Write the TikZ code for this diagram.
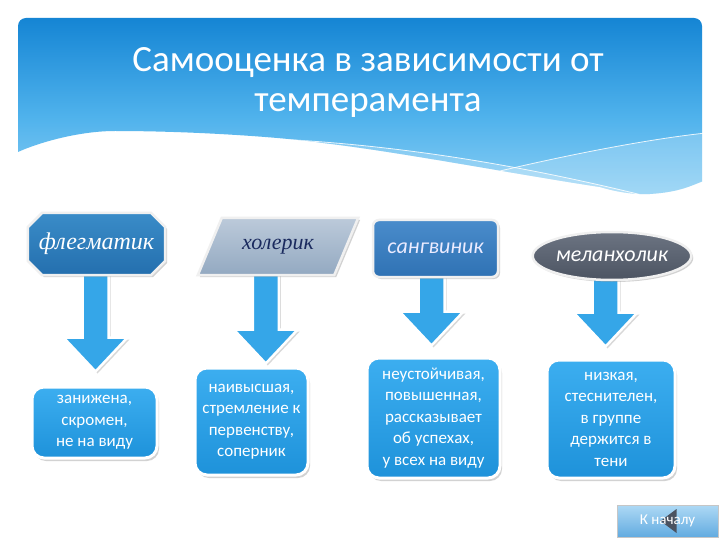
\documentclass[tikz,border=0pt]{standalone}
\usepackage{fontspec}
\setmainfont{Carlito}
\newfontfamily\serifit{Liberation Serif}
\usetikzlibrary{shapes.geometric,shapes.misc,shadows,calc}
\pgfdeclarelayer{bg}
\pgfsetlayers{bg,main}
\definecolor{hdrA}{HTML}{1585D4}
\definecolor{hdrB}{HTML}{4FB2EC}
\definecolor{hdrC}{HTML}{9AD6F6}
\definecolor{octA}{HTML}{3A8CC8}
\definecolor{octB}{HTML}{246FAE}
\definecolor{parA}{HTML}{BCCADA}
\definecolor{parB}{HTML}{93A9C1}
\definecolor{sanA}{HTML}{4A8CCB}
\definecolor{sanB}{HTML}{2F72B4}
\definecolor{melA}{HTML}{6C7482}
\definecolor{melB}{HTML}{4C5462}
\definecolor{arrC}{HTML}{35A6E8}
\definecolor{boxA}{HTML}{3CAEF0}
\definecolor{boxB}{HTML}{1E92DA}
\definecolor{navyT}{HTML}{1A2A5E}
\definecolor{btnA}{HTML}{AED9F5}
\definecolor{btnB}{HTML}{62ABE0}
\definecolor{triC}{HTML}{4A5260}
\tikzset{
  topnode/.style={draw=white!88!gray, line width=2.5pt,
    drop shadow={opacity=0.35,shadow xshift=2pt,shadow yshift=-2pt},
    inner sep=0pt, font=\fontsize{22}{26}\selectfont\itshape},
  botbox/.style={rounded corners=12pt, draw=white, line width=3pt,
    top color=boxA, bottom color=boxB,
    drop shadow={opacity=0.35,shadow xshift=2pt,shadow yshift=-3pt},
    text=white, align=center, inner sep=0pt,
    font=\fontsize{17}{21.5}\selectfont},
  arrsty/.style={fill=arrC, draw=white, line width=2.5pt, line join=miter,
    drop shadow={opacity=0.3,shadow xshift=2pt,shadow yshift=-2pt}},
  titlesty/.style={text=white, align=center, font=\fontsize{37}{40}\selectfont},
  btnsty/.style={rectangle, top color=btnA, bottom color=btnB, draw=gray!45,
    line width=0.6pt, minimum width=101pt, minimum height=32pt, inner sep=0pt,
    text=white, font=\fontsize{15}{18}\selectfont},
}
\newcommand\blockarr[4]{%
  \filldraw[arrsty] let \p1=(#1.south), \p2=(#2.north),
    \n1={0.5*\x1+0.5*\x2+#3pt} in
    (\n1-13pt,\y1+6pt) -- (\n1-13pt,\y2+#4pt+34pt)
    -- (\n1-32pt,\y2+#4pt+34pt) -- (\n1,\y2+#4pt)
    -- (\n1+32pt,\y2+#4pt+34pt) -- (\n1+13pt,\y2+#4pt+34pt)
    -- (\n1+13pt,\y1+6pt) -- cycle;}
\begin{document}
\begin{tikzpicture}[x=1pt,y=-1pt]
\useasboundingbox (0,0) rectangle (720,540);
\begin{pgfonlayer}{bg}
\fill[white] (0,0) rectangle (720,540);
\end{pgfonlayer}
% header
\begin{scope}
  \clip (0,0) -- (720,0) -- (720,180) -- (706,180)
    .. controls (690,186) and (680,192) .. (650,194)
    .. controls (630,195) and (610,190) .. (600,187)
    .. controls (520,175) and (400,152) .. (323,143)
    .. controls (290,138) and (200,131) .. (115,131)
    .. controls (80,131) and (40,142) .. (18,152)
    -- (0,152) -- cycle;
  \shade[rounded corners=8pt, top color=hdrA, bottom color=hdrC, middle color=hdrB]
    (18,18) rectangle (702,215);
  \fill[white, opacity=0.22] (221,137) .. controls (380,140) and (520,165) .. (646,196)
    -- (720,196) -- (720,240) -- (221,240) -- cycle;
  \fill[white, opacity=0.2] (443,185) .. controls (540,160) and (640,140) .. (706,133)
    -- (720,133) -- (720,240) -- (443,240) -- cycle;
  \draw[white, opacity=0.85, line width=0.8pt] (221,137) .. controls (380,140) and (520,165) .. (646,196);
  \draw[white, opacity=0.85, line width=0.8pt] (443,185) .. controls (540,160) and (640,140) .. (706,133);
\end{scope}
\node[titlesty] (ttl) at (368,82) {Самооценка в зависимости от\\темперамента};
% top nodes
\node[topnode, chamfered rectangle, chamfered rectangle xsep=12pt,
  minimum width=137pt, minimum height=62pt, top color=octA, bottom color=octB,
  text=white, font=\fontsize{24}{28}\selectfont\serifit\itshape] (fleg) at (96.5,244) {флегматик};
\node[rectangle, inner sep=0pt, minimum width=136pt, minimum height=57pt, text=navyT,
  font=\fontsize{22}{26}\selectfont\serifit\itshape] (chol) at (278,246.5) {холерик};
\node[topnode, rectangle, rounded corners=6pt, minimum width=125pt, minimum height=57pt,
  top color=sanA, bottom color=sanB, text=white!92!blue] (sang) at (435.5,248.5) {сангвиник};
\node[topnode, ellipse, minimum width=140pt, minimum height=48pt,
  top color=melA, bottom color=melB, text=white] (mel) at (612,256) {меланхолик};
% bottom boxes
\node[botbox, minimum width=125pt, minimum height=71pt] (b1) at (94.5,422.5)
  {занижена,\\скромен,\\не на виду};
\node[botbox, minimum width=113pt, minimum height=107pt] (b2) at (251.5,421.5)
  {наивысшая,\\стремление к\\первенству,\\соперник};
\node[botbox, minimum width=133pt, minimum height=120pt] (b3) at (433.5,418)
  {неустойчивая,\\повышенная,\\рассказывает\\об успехах,\\у всех на виду};
\node[botbox, minimum width=128pt, minimum height=118pt] (b4) at (611,419)
  {низкая,\\стеснителен,\\в группе\\держится в\\тени};
% arrows
\begin{pgfonlayer}{bg}
\blockarr{fleg}{b1}{0}{14}
\blockarr{chol}{b2}{1}{3}
\blockarr{sang}{b3}{-3}{11}
\blockarr{mel}{b4}{-6}{12}
% parallelogram outline of the choleric node
\shade[top color=parA, bottom color=parB, draw=white!88!gray, line width=2.5pt,
  drop shadow={opacity=0.35,shadow xshift=2pt,shadow yshift=-2pt}]
  ($(chol.north west)+(12,0)$) -- ($(chol.north east)+(12,0)$)
  -- ($(chol.south east)+(-12,0)$) -- ($(chol.south west)+(-12,0)$) -- cycle;
\end{pgfonlayer}
% back button
\node[btnsty, path picture={
  \fill[triC] ($(path picture bounding box.center)+(-7,0)$) -- ++(16,-12) -- ++(0,24) -- cycle;}]
  (back) at (667.5,521) {К началу};
\end{tikzpicture}
\end{document}
